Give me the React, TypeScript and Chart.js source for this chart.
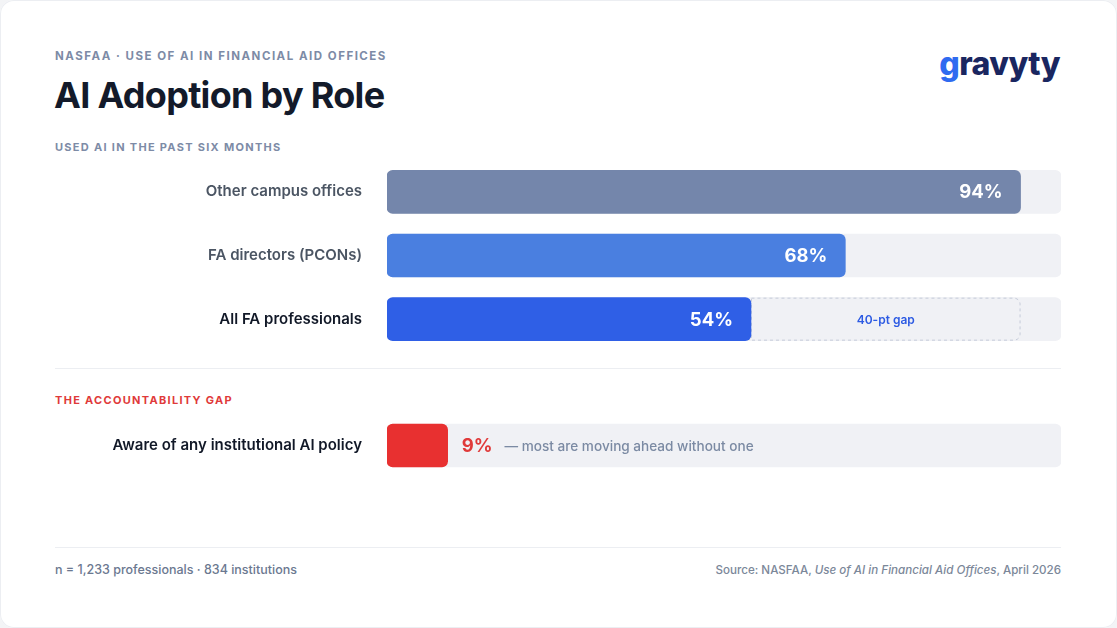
import React, { useEffect, useRef } from 'react';
import { Chart, registerables } from 'chart.js';

Chart.register(...registerables);

// ---- Data ----
const roleLabels = ['Other campus offices', 'FA directors (PCONs)', 'All FA professionals'];
const roleValues = [94, 68, 54];
const roleColors = ['#7486ab', '#4a7fe0', '#2f5fe6'];
const roleLabelColors = ['#4b5563', '#4b5563', '#111827'];
const gapRange: [number, number] = [54, 94];
const gapLabel = '40-pt gap';
const policyLabels = ['Aware of any institutional AI policy'];
const policyValues = [9];
const policyColors = ['#e83030'];
const policyNote = '— most are moving ahead without one';
const trackMax = 100;

const FONT = 'Inter, "Noto Sans", sans-serif';
const TRACK = '#f0f1f5';
const BAR_T = 43;
const AXIS_W = 332;

function baseOptions(labelColors: string[]) {
  return {
    indexAxis: 'y' as const,
    animation: false as const,
    responsive: false,
    maintainAspectRatio: false,
    layout: { padding: 0 },
    plugins: { legend: { display: false }, tooltip: { enabled: false } },
    scales: {
      x: { min: 0, max: trackMax, display: false },
      y: {
        grid: { display: false, drawTicks: false },
        border: { display: false },
        ticks: {
          padding: 25,
          color: (c: any) => labelColors[c.index] || '#111827',
          font: { family: FONT, size: 15, weight: 600 },
        },
        afterFit: (s: any) => {
          s.width = AXIS_W;
          s.paddingTop = 0;
          s.paddingBottom = 0;
        },
      },
    },
  };
}

export default function App() {
  const topRef = useRef<HTMLCanvasElement | null>(null);
  const botRef = useRef<HTMLCanvasElement | null>(null);

  useEffect(() => {
    document.body.style.margin = '0';
    document.body.style.background = '#f3f4f6';

    const gapOutline = {
      id: 'gapOutline',
      afterDatasetDraw(chart: any, args: any) {
        if (args.index !== 1) return;
        const el = args.meta.data[2];
        if (!el) return;
        const p = el.getProps(['x', 'base', 'y', 'height'], true);
        const left = Math.min(p.x, p.base);
        const right = Math.max(p.x, p.base);
        const top = p.y - p.height / 2;
        const ctx = chart.ctx;
        ctx.save();
        ctx.setLineDash([3, 3]);
        ctx.strokeStyle = '#c5cbd9';
        ctx.lineWidth = 1;
        ctx.beginPath();
        ctx.roundRect(left + 0.5, top + 0.5, right - left - 1, p.height - 1, [0, 6, 6, 0]);
        ctx.stroke();
        ctx.restore();
      },
    };

    const topLabels = {
      id: 'topLabels',
      afterDatasetsDraw(chart: any) {
        const ctx = chart.ctx;
        const meta = chart.getDatasetMeta(0);
        ctx.save();
        ctx.textBaseline = 'middle';
        ctx.font = `700 18.5px ${FONT}`;
        ctx.fillStyle = '#ffffff';
        ctx.textAlign = 'right';
        meta.data.forEach((el: any, i: number) => {
          ctx.fillText(`${roleValues[i]}%`, el.x - 18, el.y + 1);
        });
        const g = chart.getDatasetMeta(1).data[2];
        if (g) {
          ctx.font = `600 12px ${FONT}`;
          ctx.fillStyle = '#2d5be3';
          ctx.textAlign = 'center';
          ctx.fillText(gapLabel, (g.x + g.base) / 2, g.y + 1);
        }
        ctx.restore();
      },
    };

    const top = new Chart(topRef.current as HTMLCanvasElement, {
      type: 'bar',
      data: {
        labels: roleLabels,
        datasets: [
          {
            data: roleValues,
            backgroundColor: roleColors,
            borderRadius: 6,
            borderSkipped: false,
            grouped: false,
            order: 1,
            barThickness: BAR_T,
          } as any,
          {
            data: [null, null, gapRange],
            backgroundColor: TRACK,
            borderRadius: 6,
            borderSkipped: false,
            grouped: false,
            order: 2,
            barThickness: BAR_T,
          } as any,
          {
            data: roleLabels.map(() => trackMax),
            backgroundColor: TRACK,
            borderRadius: 6,
            borderSkipped: false,
            grouped: false,
            order: 3,
            barThickness: BAR_T,
          } as any,
        ],
      },
      options: baseOptions(roleLabelColors) as any,
      plugins: [gapOutline, topLabels],
    });

    const botLabels = {
      id: 'botLabels',
      afterDatasetsDraw(chart: any) {
        const ctx = chart.ctx;
        const meta = chart.getDatasetMeta(0);
        ctx.save();
        ctx.textBaseline = 'middle';
        meta.data.forEach((el: any, i: number) => {
          const t = `${policyValues[i]}%`;
          ctx.font = `700 18.5px ${FONT}`;
          ctx.fillStyle = '#e03a3a';
          ctx.textAlign = 'left';
          const x0 = el.x + 14;
          ctx.fillText(t, x0, el.y + 1);
          const w = ctx.measureText(t).width;
          ctx.font = `500 13.6px ${FONT}`;
          ctx.fillStyle = '#7b8aa3';
          ctx.fillText(policyNote, x0 + w + 12, el.y + 1);
        });
        ctx.restore();
      },
    };

    const bot = new Chart(botRef.current as HTMLCanvasElement, {
      type: 'bar',
      data: {
        labels: policyLabels,
        datasets: [
          {
            data: policyValues,
            backgroundColor: policyColors,
            borderRadius: 6,
            borderSkipped: false,
            grouped: false,
            order: 1,
            barThickness: BAR_T,
          } as any,
          {
            data: policyLabels.map(() => trackMax),
            backgroundColor: TRACK,
            borderRadius: 6,
            borderSkipped: false,
            grouped: false,
            order: 2,
            barThickness: BAR_T,
          } as any,
        ],
      },
      options: baseOptions(['#111827']) as any,
      plugins: [botLabels],
    });

    return () => {
      top.destroy();
      bot.destroy();
    };
  }, []);

  const eyebrow: React.CSSProperties = {
    position: 'absolute',
    left: 55,
    fontFamily: FONT,
    fontSize: 11,
    fontWeight: 700,
    letterSpacing: 1.3,
    lineHeight: '11px',
    color: '#7d8ba6',
    whiteSpace: 'nowrap',
  };

  return (
    <div
      style={{
        position: 'relative',
        width: 1117,
        height: 628,
        background: '#ffffff',
        borderRadius: 14,
        overflow: 'hidden',
        fontFamily: FONT,
        boxShadow: 'inset 0 0 0 1px #eceef2',
      }}
    >
      <div style={{ ...eyebrow, top: 51, fontSize: 11.5, letterSpacing: 1.5 }}>
        NASFAA · USE OF AI IN FINANCIAL AID OFFICES
      </div>
      <div
        style={{
          position: 'absolute',
          left: 54,
          top: 75,
          fontSize: 36,
          fontWeight: 700,
          letterSpacing: -0.7,
          lineHeight: '40px',
          color: '#131a2a',
          whiteSpace: 'nowrap',
        }}
      >
        AI Adoption by Role
      </div>
      <div
        style={{
          position: 'absolute',
          right: 57,
          top: 46,
          fontSize: 32,
          fontWeight: 800,
          letterSpacing: -0.5,
          lineHeight: '36px',
          color: '#1a2660',
          whiteSpace: 'nowrap',
        }}
      >
        <span style={{ color: '#2f6bf0' }}>g</span>ravyty
      </div>
      <div style={{ ...eyebrow, top: 142 }}>USED AI IN THE PAST SIX MONTHS</div>

      <canvas
        ref={topRef}
        width={1006}
        height={191}
        style={{ position: 'absolute', left: 55, top: 160, width: 1006, height: 191 }}
      />

      <div style={{ position: 'absolute', left: 55, top: 368, width: 1006, height: 1, background: '#eceef2' }} />
      <div style={{ ...eyebrow, top: 395, color: '#e03a3a' }}>THE ACCOUNTABILITY GAP</div>

      <canvas
        ref={botRef}
        width={1006}
        height={63}
        style={{ position: 'absolute', left: 55, top: 414, width: 1006, height: 63 }}
      />

      <div style={{ position: 'absolute', left: 55, top: 547, width: 1006, height: 1, background: '#eceef2' }} />
      <div
        style={{
          position: 'absolute',
          left: 55,
          top: 562,
          fontSize: 12.5,
          lineHeight: '16px',
          fontWeight: 500,
          color: '#6b7890',
          whiteSpace: 'nowrap',
        }}
      >
        n = 1,233 professionals · 834 institutions
      </div>
      <div
        style={{
          position: 'absolute',
          right: 56,
          top: 562,
          fontSize: 11.6,
          lineHeight: '16px',
          fontWeight: 500,
          color: '#7b8799',
          whiteSpace: 'nowrap',
        }}
      >
        Source: NASFAA, <i>Use of AI in Financial Aid Offices</i>, April 2026
      </div>
    </div>
  );
}
